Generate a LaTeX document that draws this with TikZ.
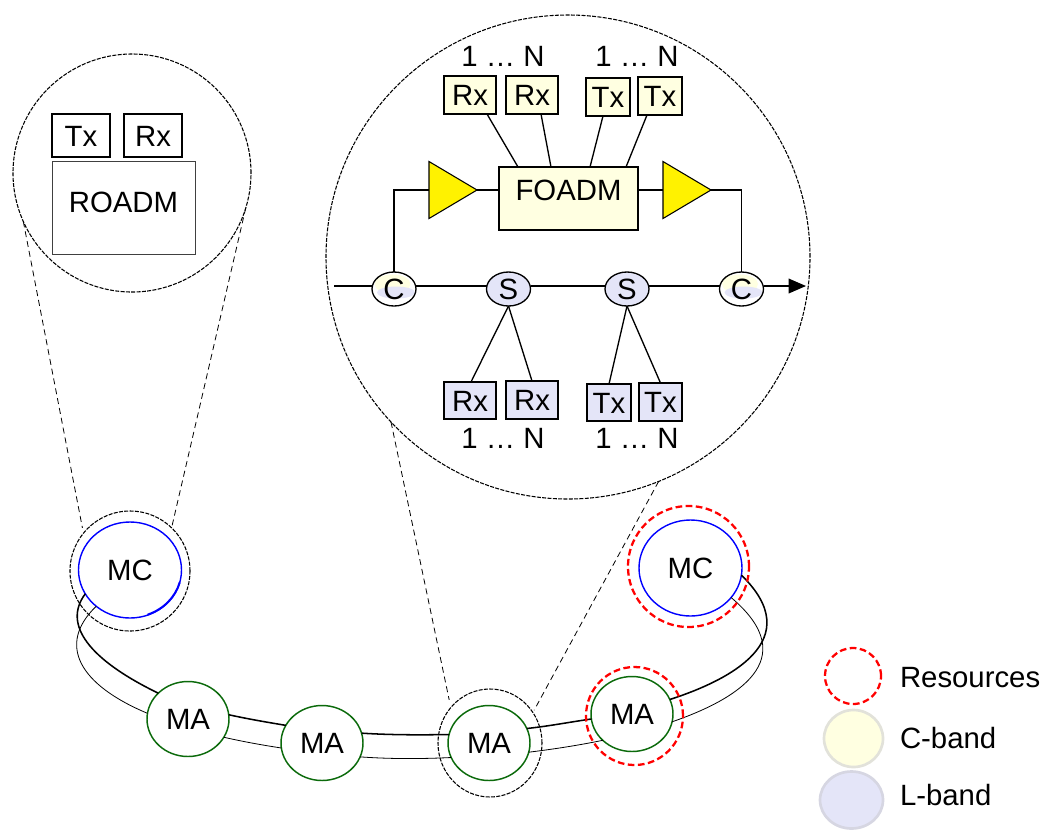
\documentclass[tikz,border=0pt]{standalone}
\usepackage{fontspec}
\setmainfont{Liberation Sans}
\usetikzlibrary{shapes.geometric,arrows.meta,calc}
\definecolor{cband}{HTML}{FFFFE1}
\definecolor{lband}{HTML}{E4E5F8}
\definecolor{cedge}{HTML}{E2E2DA}
\definecolor{ledge}{HTML}{D6D6E2}
\definecolor{magreen}{HTML}{0B6A0B}
\def\u{0.75pt}
\tikzset{
  every node/.style={inner sep=0pt,outer sep=0pt,font=\fontsize{22pt}{24pt}\selectfont,text height=15.8pt,text depth=0pt},
  bx/.style 2 args={rectangle,minimum width=#1*\u,minimum height=#2*\u},
  elp/.style 2 args={ellipse,minimum width=#1*\u,minimum height=#2*\u},
  ln/.style={line width=1pt},
  thick ring/.style={line width=1.15pt},
  thin ring/.style={line width=0.6pt},
  lensline/.style={draw,line width=0.8pt,dash pattern=on 3pt off 1pt},
  lensring/.style={lensline,elp={#1}{#1}},
  zoomline/.style={line width=0.6pt,dash pattern=on 4.5pt off 3pt},
  redring/.style={draw=red,line width=1.7pt,dash pattern=on 5pt off 2.6pt},
  mcnode/.style={draw=blue,line width=1.05pt,fill=white,elp={103}{96}},
  manode/.style={draw=magreen,line width=1.1pt,fill=white,elp={82}{75}},
  cbox/.style={draw,line width=1pt,fill=cband},
  lbox/.style={draw,line width=1pt,fill=lband},
  wbox/.style={draw,line width=0.8pt,fill=white},
  amp/.style={draw,line width=0.8pt,fill=yellow,isosceles triangle,isosceles triangle stretches,minimum width=57*\u,minimum height=48*\u,anchor=apex},
  snode/.style={draw,line width=1pt,fill=lband,elp={44}{34}},
  cnode/.style={draw,line width=1pt,fill=white,elp={44}{34},path picture={
    \fill[cband] ($(path picture bounding box.center)+(-1.5,-5)$) ellipse [x radius=18,y radius=9.5];
    \fill[lband] ($(path picture bounding box.center)+(2,3.5)$) ellipse [x radius=19,y radius=6];}},
}
\begin{document}
\begin{tikzpicture}[x=0.75pt,y=-0.75pt]
\useasboundingbox (0,0) rectangle (1045,829);
% lenses
\node[lensring=238] (lensL) at (132,173) {};
\node[lensring=484] (lensB) at (568,257) {};
% ring nodes
\node[lensring=120] (outerMC) at (130,571) {};
\node[lensline,elp={104}{108}] (outerMA) at (490,743) {};
\node[mcnode] (mc1) at (130,570) {MC};
\node[mcnode] (mc2) at (690.5,568) {MC};
\node[manode] (ma1) at (188,719) {MA};
\node[manode] (ma2) at (322,743) {MA};
\node[manode] (ma3) at (489,743) {MA};
\node[manode] (ma4) at (632,714) {MA};
\draw[blue,line width=1.5pt] (130,570) ++(15:51.5 and 47.5) arc[start angle=15,end angle=70,x radius=51.5,y radius=47.5];
% ring connectors
\draw[thick ring] (mc1.208) .. controls (62,625) and (90,660) .. (ma1.139);
\draw[thin ring] (mc1.227) .. controls (56,645) and (80,685) .. (ma1.172);
\draw[thick ring] (ma1.6) .. controls (248,719) and (266,722) .. (ma2.154);
\draw[thin ring] (ma1.-27) .. controls (245,742) and (262,745) .. (ma2.187);
\draw[thick ring] (ma2.14) .. controls (390,735) and (420,735) .. (ma3.168);
\draw[thin ring] (ma2.-20) .. controls (390,759) and (420,759) .. (ma3.201);
\draw[thick ring] (ma3.21) .. controls (550,726) and (570,722) .. (ma4.187);
\draw[thin ring] (ma3.-13) .. controls (555,749) and (580,745) .. (ma4.222);
\draw[thick ring] (ma4.21) .. controls (730,680) and (808,640) .. (mc2.-8);
\draw[thin ring] (ma4.-11) .. controls (735,700) and (805,660) .. (mc2.-36);
% red resource rings
\node[redring,elp={121}{121}] (redMC) at (688.5,566.5) {};
\node[redring,elp={97}{98}] (redMA) at (634.5,716) {};
% zoom lines
\draw[zoomline] (lensL.204) -- ([shift={(-3,-3)}]outerMC.138);
\draw[zoomline] (lensL.-17) -- ([shift={(2,-1)}]outerMC.48);
\draw[zoomline] (lensB.223.5) -- ([shift={(-4,-5)}]outerMA.134);
\draw[zoomline] (lensB.-68) -- ([shift={(2,-1)}]outerMA.37);
% left lens content
\node[wbox,bx={58}{43}] (txL) at (81,135.5) {Tx};
\node[wbox,bx={58}{43}] (rxL) at (153,135.5) {Rx};
\node[draw=black!75,line width=0.6pt,fill=white,bx={143}{93},text height=16pt,text depth=8pt] (roadm) at (123.5,207.5) {ROADM};
% big lens content: top
\node (topA) at (503,55.5) {1 … N};
\node (topB) at (637,55.5) {1 … N};
\node[cbox,bx={52}{38}] (rx1) at (470,95) {Rx};
\node[cbox,bx={52}{38}] (rx2) at (532,95) {Rx};
\node[cbox,bx={44}{38}] (tx1) at (608,97) {Tx};
\node[cbox,bx={44}{38}] (tx2) at (660,96) {Tx};
\node[cbox,bx={139}{63},text height=16pt,text depth=13pt] (foadm) at (568.5,198.5) {FOADM\hspace{4pt}};
\node[amp] (amp1) at (477,190) {};
\node[amp] (amp2) at (711,190) {};
\draw[ln] ([xshift=17*\u]rx1.south) -- ([xshift=-50.5*\u]foadm.north);
\draw[ln] ([xshift=9*\u]rx2.south) -- ([xshift=-17.5*\u]foadm.north);
\draw[ln] ([xshift=-5*\u]tx1.south) -- ([xshift=21.5*\u]foadm.north);
\draw[ln] ([xshift=-13*\u]tx2.south) -- ([xshift=57.5*\u]foadm.north);
\draw[ln] (amp1.apex) -- (amp1.apex -| foadm.west);
\draw[ln] (foadm.east |- amp2.west) -- (amp2.west);
% line nodes
\node[cnode] (c1) at (394,289) {C};
\node[snode] (s1) at (508.5,289) {S};
\node[snode] (s2) at (627,289) {S};
\node[cnode] (c2) at (741.5,289) {C};
\coordinate (start) at (334,286);
\coordinate (end) at (806,286);
\draw[ln] (amp1.west) -| (c1.north);
\draw[ln] (amp2.apex) -| (c2.north);
\draw[ln] (start) -- (start -| c1.west);
\draw[ln] (c1.east |- start) -- (start -| s1.west);
\draw[ln] (s1.east |- start) -- (start -| s2.west);
\draw[ln] (s2.east |- start) -- (start -| c2.west);
\draw[ln,-{Triangle[length=13pt,width=11pt]}] (c2.east |- end) -- (end);
% bottom
\node[lbox,bx={52}{37}] (rx3) at (470,400.5) {Rx};
\node[lbox,bx={52}{38}] (rx4) at (532,400) {Rx};
\node[lbox,bx={44}{37}] (tx3) at (609,402.5) {Tx};
\node[lbox,bx={43}{38}] (tx4) at (660.5,402) {Tx};
\node (botA) at (503,438) {1 … N};
\node (botB) at (637,438) {1 … N};
\draw[ln] (s1.south) -- ([xshift=1*\u]rx3.north);
\draw[ln] (s1.south) -- (rx4.north);
\draw[ln] (s2.south) -- (tx3.north);
\draw[ln] (s2.south) -- (tx4.north);
% legend
\node[redring,elp={56}{56}] (legR) at (853,676) {};
\node[draw=cedge,line width=2pt,fill=cband,elp={59}{57}] (legC) at (853.5,738.5) {};
\node[draw=ledge,line width=2pt,fill=lband,elp={63}{57}] (legL) at (851.5,800) {};
\node[anchor=west] (txtR) at (900,677) {Resources};
\node[anchor=west] (txtC) at (900,738) {C-band};
\node[anchor=west] (txtL) at (900,795) {L-band};
\end{tikzpicture}
\end{document}
